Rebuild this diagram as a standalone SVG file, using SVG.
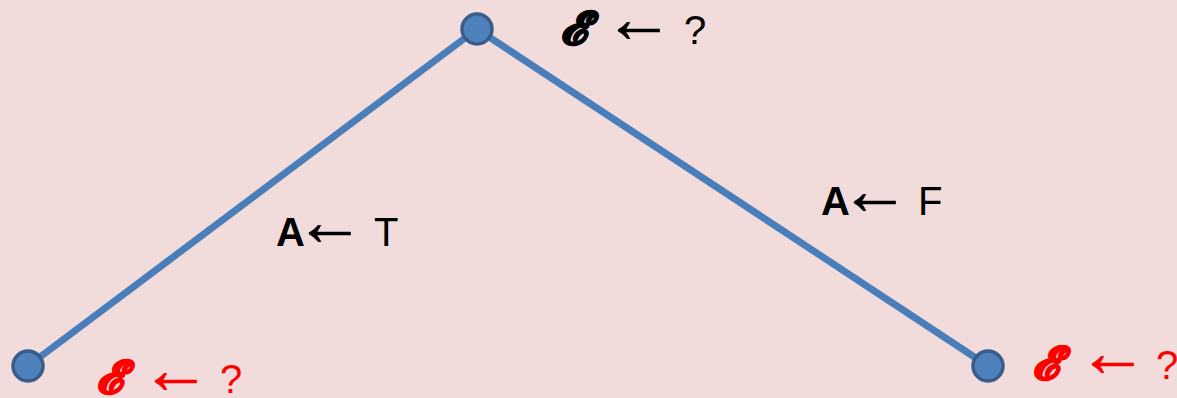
<svg xmlns="http://www.w3.org/2000/svg" width="1177" height="398" viewBox="0 0 1177 398">
<style>
.edge{stroke:#4A7EBB;stroke-width:7;fill:none;stroke-linecap:round}
.node{fill:#4F81BD;stroke:#385D8A;stroke-width:3.5}
.a{font-family:"Noto Sans","Open Sans",sans-serif;font-size:70px;stroke-width:0.6}
.s{font-family:"DejaVu Sans","DejaVu Serif",serif;font-weight:bold;font-style:italic;font-size:46px;stroke-width:1.5;stroke-linejoin:round}
.k{fill:#000;stroke:#000}
.r{fill:#FF0000;stroke:#FF0000}
.q{font-family:"Liberation Sans",Arial,sans-serif;font-size:40px;stroke:none;font-style:normal;font-weight:normal}
.q.b{font-weight:bold}
</style>
<rect width="1177" height="398" fill="#F2DCDB"/>
<g id="connectors">
<line class="edge" x1="477" y1="29" x2="28" y2="366"/>
<line class="edge" x1="477" y1="29" x2="988" y2="366"/>
</g>
<g id="node-root">
<circle class="node" cx="477" cy="29" r="15"/>
<text class="k"><tspan class="s" x="560" y="44">𝓔</tspan><tspan class="a" x="604" y="42">←</tspan><tspan class="q" x="684" y="44">?</tspan></text>
</g>
<g id="node-left">
<circle class="node" cx="28" cy="366" r="15"/>
<text class="r"><tspan class="s" x="96" y="393">𝓔</tspan><tspan class="a" x="141" y="393">←</tspan><tspan class="q" x="220" y="393">?</tspan></text>
</g>
<g id="node-right">
<circle class="node" cx="988" cy="366" r="15"/>
<text class="r"><tspan class="s" x="1032" y="379">𝓔</tspan><tspan class="a" x="1078" y="376">←</tspan><tspan class="q" x="1156" y="379">?</tspan></text>
</g>
<g id="label-left">
<text class="k"><tspan class="q b" x="276" y="246">A</tspan><tspan class="a" x="295" y="245">←</tspan><tspan class="q" x="374" y="246">T</tspan></text>
</g>
<g id="label-right">
<text class="k"><tspan class="q b" x="821" y="215">A</tspan><tspan class="a" x="840" y="214">←</tspan><tspan class="q" x="918" y="215">F</tspan></text>
</g>
</svg>
